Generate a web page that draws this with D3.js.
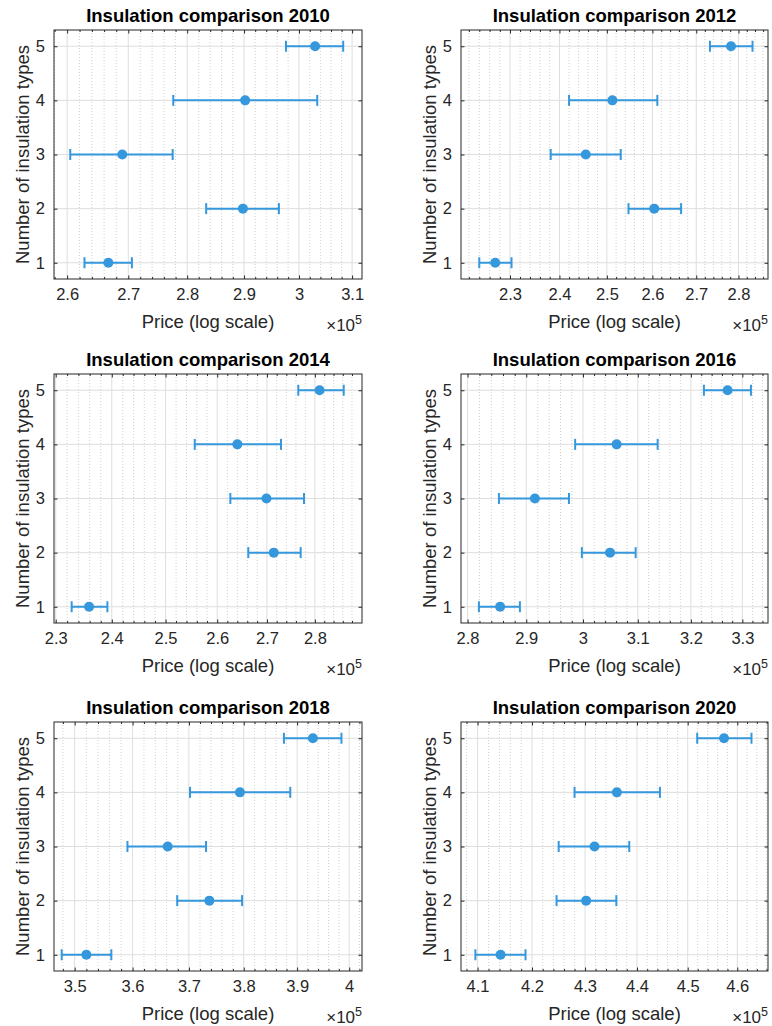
<!DOCTYPE html>
<html>
<head>
<meta charset="utf-8">
<script src="https://cdn.jsdelivr.net/npm/d3@7"></script>
<style>
  body { margin: 0; background: #ffffff; }
  svg { display: block; }
  text { font-family: "Liberation Sans", Arial, Helvetica, sans-serif; }
</style>
</head>
<body>
<svg id="fig" width="772" height="1026"></svg>
<script>
// ---- data -------------------------------------------------------------
const years = [2010, 2012, 2014, 2016, 2018, 2020];
const insulationTypes = [1, 2, 3, 4, 5];

// mean price per number of insulation types, with lower / upper error bounds
const price2010 = [266700, 289800, 269000, 290200, 303000];
const low2010   = [262800, 283300, 260500, 277600, 297600];
const high2010  = [270600, 296300, 277500, 303400, 308300];

const price2012 = [227100, 260400, 245500, 251200, 278200];
const low2012   = [224000, 254700, 238200, 242000, 273200];
const high2012  = [230300, 266500, 253000, 261100, 283400];

const price2014 = [235900, 271400, 269900, 264000, 281000];
const low2014   = [232800, 266200, 262600, 255600, 276500];
const high2014  = [239200, 277000, 277700, 272900, 286200];

const price2016 = [285500, 304900, 291500, 306100, 327100];
const low2016   = [281900, 299800, 285300, 298600, 322500];
const high2016  = [288900, 309600, 297500, 313700, 331700];

const price2018 = [352000, 373700, 366200, 379300, 393000];
const low2018   = [347800, 367900, 359100, 370200, 387500];
const high2018  = [356300, 379700, 373100, 388700, 398500];

const price2020 = [414200, 430200, 431800, 436100, 457300];
const low2020   = [409600, 424600, 425000, 428000, 451900];
const high2020  = [418800, 436000, 438500, 444500, 462900];

// x-axis limits (price) for each year
const xLimits = [
  [257900, 311900],
  [220500, 287200],
  [229700, 290200],
  [278900, 335100],
  [346500, 402500],
  [407000, 466300]
];

// major tick values, in units of 10^5
const ticks2010 = [2.6, 2.7, 2.8, 2.9, 3.0, 3.1];
const ticks2012 = [2.3, 2.4, 2.5, 2.6, 2.7, 2.8];
const ticks2014 = [2.3, 2.4, 2.5, 2.6, 2.7, 2.8];
const ticks2016 = [2.8, 2.9, 3.0, 3.1, 3.2, 3.3];
const ticks2018 = [3.5, 3.6, 3.7, 3.8, 3.9, 4.0];
const ticks2020 = [4.1, 4.2, 4.3, 4.4, 4.5, 4.6];

const yLimits = [0.7, 5.3];

const means = [price2010, price2012, price2014, price2016, price2018, price2020];
const lows  = [low2010, low2012, low2014, low2016, low2018, low2020];
const highs = [high2010, high2012, high2014, high2016, high2018, high2020];
const tickSets = [ticks2010, ticks2012, ticks2014, ticks2016, ticks2018, ticks2020];

// ---- layout -----------------------------------------------------------
const colLeft = [54, 461];
const colWidth = [308, 307];
const rowTop = [30, 374, 722];
const plotH = 249;

const blue = "#3597dc";
const ink = "#262626";
const fmt = v => String(+v.toFixed(1));

const svg = d3.select("#fig");

years.forEach((year, i) => {
  const col = i % 2, row = Math.floor(i / 2);
  const w = colWidth[col], h = plotH;
  const g = svg.append("g")
    .attr("transform", `translate(${colLeft[col]},${rowTop[row]})`);

  const x = d3.scaleLog().domain(xLimits[i]).range([0, w]);
  const y = d3.scaleLinear().domain(yLimits).range([h, 0]);

  const majorVals = tickSets[i].map(t => Math.round(t * 1e5));
  const lo = xLimits[i][0], hi = xLimits[i][1];
  const minorVals = d3.range(Math.ceil(lo / 2000), Math.floor(hi / 2000) + 1)
    .filter(k => k % 5 !== 0)
    .map(k => k * 2000);

  // minor vertical grid (dotted)
  g.append("g").selectAll("line").data(minorVals).join("line")
    .attr("x1", d => x(d)).attr("x2", d => x(d))
    .attr("y1", 0).attr("y2", h)
    .attr("stroke", "#c4c4c4").attr("stroke-width", 0.8)
    .attr("stroke-dasharray", "1,2");

  // major grid
  g.append("g").selectAll("line").data(majorVals).join("line")
    .attr("x1", d => x(d)).attr("x2", d => x(d))
    .attr("y1", 0).attr("y2", h)
    .attr("stroke", "#dedede").attr("stroke-width", 1);
  g.append("g").selectAll("line").data(insulationTypes).join("line")
    .attr("x1", 0).attr("x2", w)
    .attr("y1", d => y(d)).attr("y2", d => y(d))
    .attr("stroke", "#dedede").attr("stroke-width", 1);

  // axes: bottom with labels, others tick-only, all ticks pointing inward
  const styleAxis = sel => {
    sel.select(".domain").remove();
    sel.selectAll(".tick line").attr("stroke", ink);
    sel.selectAll(".tick text")
      .attr("fill", ink)
      .style("font-size", "16.5px")
      .style("font-family", '"Liberation Sans", Arial, Helvetica, sans-serif');
  };

  g.append("g").attr("transform", `translate(0,${h})`)
    .call(d3.axisBottom(x).tickValues(majorVals).tickFormat(d => fmt(d / 1e5))
      .tickSizeInner(-3.5).tickSizeOuter(0).tickPadding(9.5))
    .call(styleAxis);
  g.append("g").attr("transform", `translate(0,${h})`)
    .call(d3.axisBottom(x).tickValues(minorVals).tickFormat("")
      .tickSizeInner(-2).tickSizeOuter(0))
    .call(styleAxis);
  g.append("g")
    .call(d3.axisTop(x).tickValues(majorVals).tickFormat("")
      .tickSizeInner(-3.5).tickSizeOuter(0))
    .call(styleAxis);
  g.append("g")
    .call(d3.axisTop(x).tickValues(minorVals).tickFormat("")
      .tickSizeInner(-2).tickSizeOuter(0))
    .call(styleAxis);
  g.append("g")
    .call(d3.axisLeft(y).tickValues(insulationTypes).tickFormat(d3.format("d"))
      .tickSizeInner(-3.5).tickSizeOuter(0).tickPadding(9))
    .call(styleAxis);
  g.append("g").attr("transform", `translate(${w},0)`)
    .call(d3.axisRight(y).tickValues(insulationTypes).tickFormat("")
      .tickSizeInner(-3.5).tickSizeOuter(0))
    .call(styleAxis);

  // frame
  g.append("rect")
    .attr("x", 0).attr("y", 0).attr("width", w).attr("height", h)
    .attr("fill", "none").attr("stroke", ink).attr("stroke-width", 1);

  // error bars
  const rows = insulationTypes.map((t, j) => ({
    t, m: means[i][j], l: lows[i][j], u: highs[i][j]
  }));
  const bars = g.append("g").selectAll("g").data(rows).join("g");
  bars.append("line")
    .attr("x1", d => x(d.l)).attr("x2", d => x(d.u))
    .attr("y1", d => y(d.t)).attr("y2", d => y(d.t))
    .attr("stroke", blue).attr("stroke-width", 2);
  bars.append("line")
    .attr("x1", d => x(d.l)).attr("x2", d => x(d.l))
    .attr("y1", d => y(d.t) - 5.5).attr("y2", d => y(d.t) + 5.5)
    .attr("stroke", blue).attr("stroke-width", 2);
  bars.append("line")
    .attr("x1", d => x(d.u)).attr("x2", d => x(d.u))
    .attr("y1", d => y(d.t) - 5.5).attr("y2", d => y(d.t) + 5.5)
    .attr("stroke", blue).attr("stroke-width", 2);
  bars.append("circle")
    .attr("cx", d => x(d.m)).attr("cy", d => y(d.t))
    .attr("r", 5).attr("fill", blue);

  // title and axis labels
  g.append("text")
    .attr("x", w / 2).attr("y", -8.5)
    .attr("text-anchor", "middle")
    .attr("fill", "#000")
    .style("font-size", "18.5px").style("font-weight", "bold")
    .text(`Insulation comparison ${year}`);

  g.append("text")
    .attr("x", w / 2).attr("y", h + 48.5)
    .attr("text-anchor", "middle")
    .attr("fill", ink)
    .style("font-size", "18.5px")
    .text("Price (log scale)");

  g.append("text")
    .attr("transform", `translate(-31.5,${h / 2}) rotate(-90)`)
    .attr("text-anchor", "middle")
    .attr("dy", "0.35em")
    .attr("fill", ink)
    .style("font-size", "18.5px")
    .text("Number of insulation types");

  const exp = g.append("text")
    .attr("x", w).attr("y", h + 51.5)
    .attr("text-anchor", "end")
    .attr("fill", ink)
    .style("font-size", "17px");
  exp.append("tspan").text("\u00d710");
  exp.append("tspan").attr("dy", -7).style("font-size", "12.5px").text("5");
});
</script>
</body>
</html>
